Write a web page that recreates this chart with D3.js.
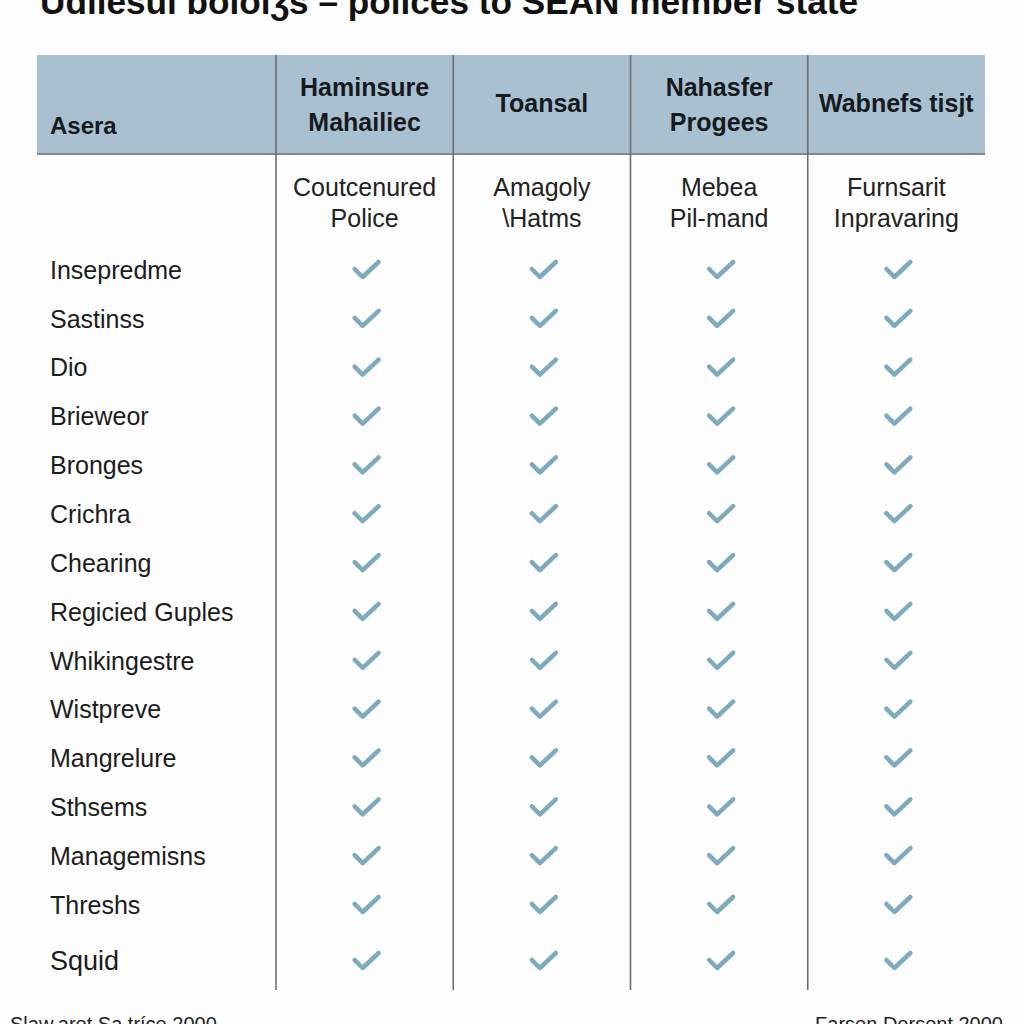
<!DOCTYPE html>
<html><head><meta charset="utf-8">
<script src="https://cdn.jsdelivr.net/npm/d3@7"></script>
<style>html,body{margin:0;padding:0;background:#fdfdfd;}svg{display:block;}</style>
</head><body>
<script>
const title = "Udliesul bololʒs – polices to SEAN member state";
const cornerHeader = "Asera";
const columnHeaders = [["Haminsure","Mahailiec"],["Toansal"],["Nahasfer","Progees"],["Wabnefs tisjt"]];
const subHeaders = [["Coutcenured","Police"],["Amagoly","\\Hatms"],["Mebea","Pil-mand"],["Furnsarit","Inpravaring"]];
const rowLabels = ["Insepredme","Sastinss","Dio","Brieweor","Bronges","Crichra","Chearing","Regicied Guples","Whikingestre","Wistpreve","Mangrelure","Sthsems","Managemisns","Threshs","Squid"];
const checks = rowLabels.map(() => [true,true,true,true]);
const footLeft = "Slaw.aret Sa.tríce 2000";
const footRight = "Farsen Dorsent 2000";

const W = 1024, H = 1024;
const svg = d3.select("body").append("svg").attr("width", W).attr("height", H);
svg.append("rect").attr("width", W).attr("height", H).attr("fill", "#fdfdfd");

const tableL = 37, tableR = 985, firstColR = 276, headTop = 55, headBot = 154, tableBot = 990;
const x = d3.scaleBand().domain(d3.range(columnHeaders.length)).range([firstColR, tableR]);
const y = d3.scaleLinear().domain([0, rowLabels.length - 2, rowLabels.length - 1]).range([270, 905, 961]);
const font = "Liberation Sans, Arial, sans-serif";

// title
svg.append("text").attr("x", 40).attr("y", 14).attr("font-family", font)
  .attr("font-weight", "bold").attr("font-size", 35).attr("fill", "#111")
  .attr("textLength", 818).attr("lengthAdjust", "spacingAndGlyphs").text(title);

// header band
svg.append("rect").attr("x", tableL).attr("y", headTop).attr("width", tableR - tableL).attr("height", headBot - headTop).attr("fill", "#a8c0d0");
svg.append("line").attr("x1", tableL).attr("x2", tableR).attr("y1", headBot).attr("y2", headBot).attr("stroke", "#7d8890").attr("stroke-width", 2);

// column separators
svg.selectAll("line.col").data(d3.range(columnHeaders.length)).join("line").attr("class", "col")
  .attr("x1", d => x(d)).attr("x2", d => x(d)).attr("y1", headTop).attr("y2", tableBot)
  .attr("stroke", "#6b6f72").attr("stroke-width", 1.6);

svg.append("text").attr("x", 50).attr("y", 134).attr("font-family", font).attr("font-weight", "bold")
  .attr("font-size", 24).attr("fill", "#161a1e").text(cornerHeader);

// column headers
columnHeaders.forEach((lines, i) => {
  const cx = x(i) + x.bandwidth() / 2;
  const n = lines.length;
  lines.forEach((t, j) => {
    const cy = n === 1 ? 103 : (j === 0 ? 87 : 122);
    svg.append("text").attr("x", cx).attr("y", cy).attr("dy", "0.35em").attr("text-anchor", "middle")
      .attr("font-family", font).attr("font-weight", "bold").attr("font-size", 25).attr("fill", "#161a1e").text(t);
  });
});

// sub headers
subHeaders.forEach((lines, i) => {
  const cx = x(i) + x.bandwidth() / 2;
  lines.forEach((t, j) => {
    svg.append("text").attr("x", cx).attr("y", j === 0 ? 187 : 218).attr("dy", "0.35em").attr("text-anchor", "middle")
      .attr("font-family", font).attr("font-size", 25).attr("fill", "#222").text(t);
  });
});

// row labels
svg.selectAll("text.row").data(rowLabels).join("text").attr("class", "row")
  .attr("x", 50).attr("y", (d, i) => y(i)).attr("dy", "0.35em")
  .attr("font-family", font).attr("font-size", (d, i) => i === rowLabels.length - 1 ? 27 : 25)
  .attr("fill", "#1c1c1c").text(d => d);

// checks
const cells = [];
checks.forEach((row, r) => row.forEach((v, c) => { if (v) cells.push({ r, c }); }));
svg.selectAll("path.chk").data(cells).join("path").attr("class", "chk")
  .attr("transform", d => `translate(${x(d.c) + x.bandwidth() / 2 + 2},${y(d.r)})`)
  .attr("d", "M-12,-1 L-4,7 L12,-8")
  .attr("fill", "none").attr("stroke", "#7eaabd").attr("stroke-width", 4.5).attr("stroke-linecap", "round").attr("stroke-linejoin", "round");

// footer
svg.append("text").attr("x", 10).attr("y", 1031).attr("font-family", font).attr("font-size", 20).attr("fill", "#222").text(footLeft);
svg.append("text").attr("x", 1003).attr("y", 1031).attr("text-anchor", "end").attr("font-family", font).attr("font-size", 20).attr("fill", "#222").text(footRight);
</script>
</body></html>
